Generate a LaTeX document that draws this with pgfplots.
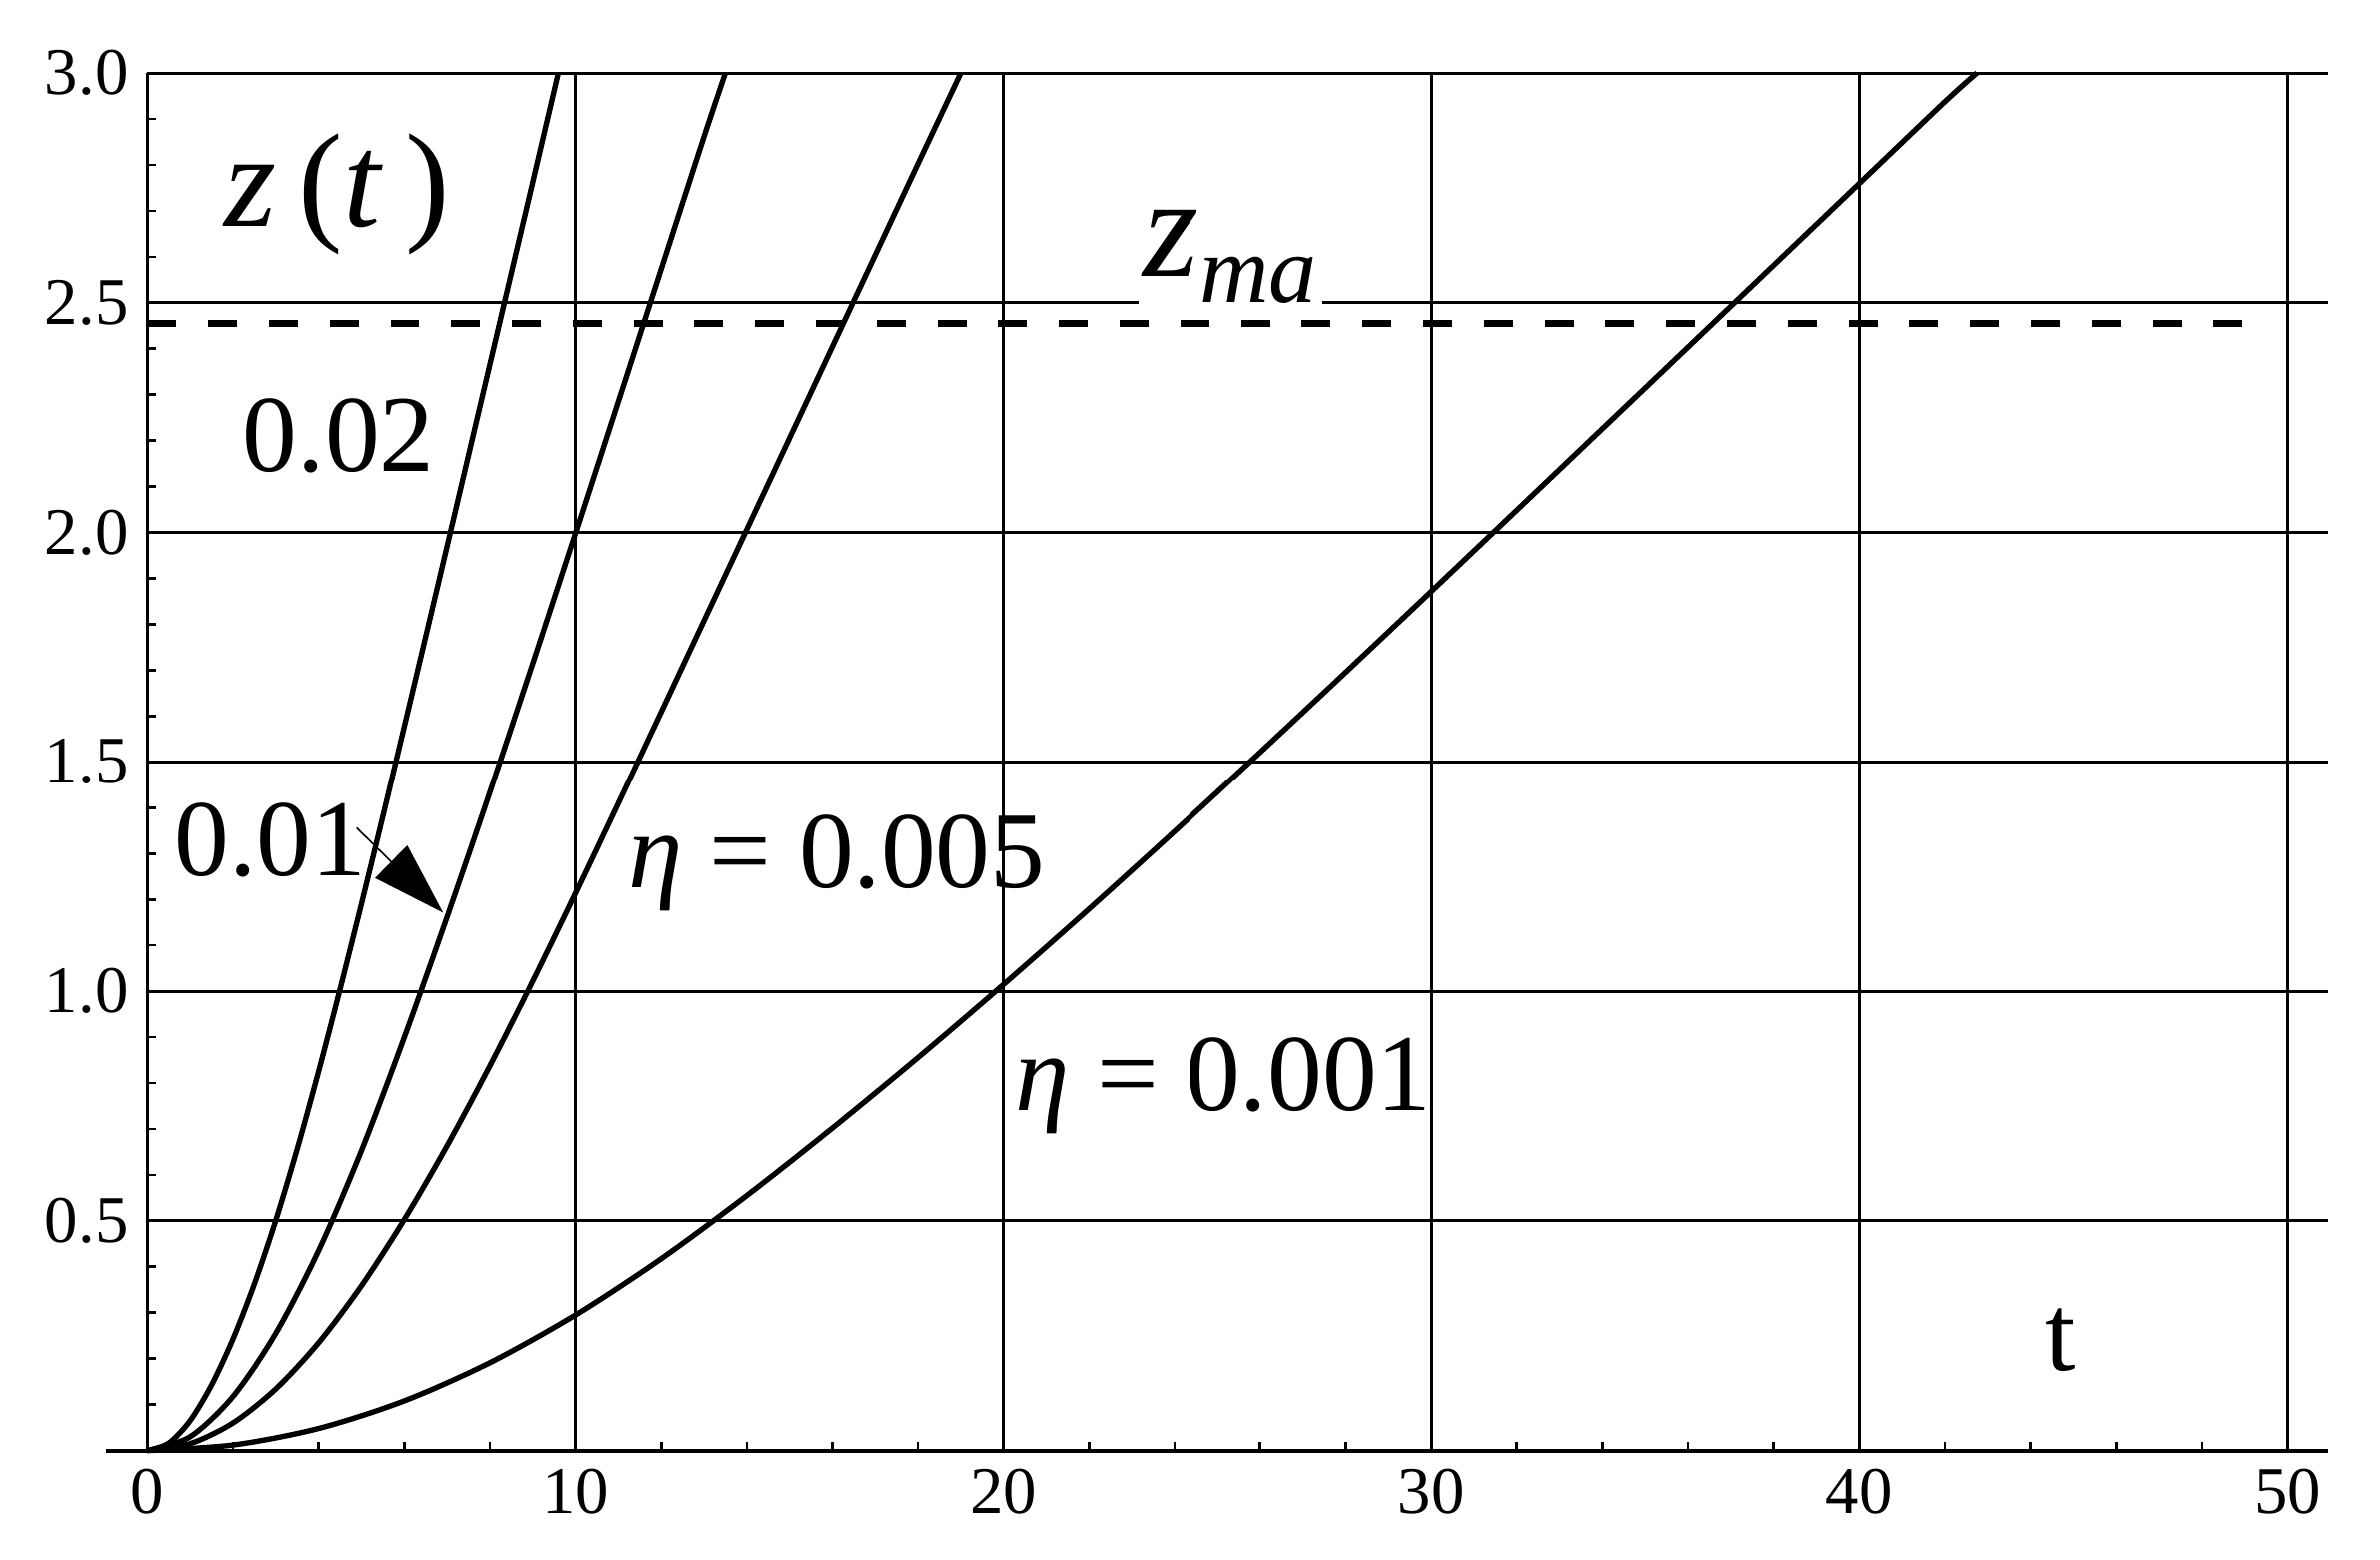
\documentclass[border=0pt]{standalone}
\usepackage{fontspec}
\setmainfont{Liberation Serif}
\usepackage{pgfplots}
\pgfplotsset{compat=1.18}
\usetikzlibrary{arrows.meta}

\begin{document}
\begin{tikzpicture}
\begin{axis}[
  name=ax,
  scale only axis,
  width=143.55mm, height=90.7mm,
  xmin=0, xmax=50.95, ymin=0, ymax=3,
  axis lines*=left,
  clip=false,
  x axis line style={line width=0.75pt, shorten <=-2.7mm},
  y axis line style={line width=0.55pt},
  xtick={0,10,...,50},
  ytick={0.5,1,1.5,2,2.5,3},
  minor xtick={2,4,6,8,12,14,16,18,22,24,26,28,32,34,36,38,42,44,46,48},
  minor ytick={0.1,0.2,0.3,0.4,0.6,0.7,0.8,0.9,1.1,1.2,1.3,1.4,1.6,1.7,1.8,1.9,2.1,2.2,2.3,2.4,2.6,2.7,2.8,2.9},
  tick align=inside,
  major tick length=0.6mm,
  minor tick length=0.6mm,
  tick style={black, line width=0.5pt},
  grid=major,
  major grid style={black, line width=0.55pt},
  /pgf/number format/assume math mode=true,
  tick label style={font=\fontsize{12.5}{14}\selectfont},
  yticklabel style={/pgf/number format/.cd, fixed, fixed zerofill, precision=1},
  xticklabel style={/pgf/number format/.cd, fixed, precision=0},
]

\node[fill=white, inner sep=1pt] at (axis cs:25.3,2.6)
  {{\fontsize{27}{30}\selectfont\textit{z}}\raisebox{-5pt}{\fontsize{18}{20}\selectfont\textit{ma}}};

\addplot[black, line width=1.25pt, dash pattern=on 1.9mm off 2.1mm] coordinates {(0,2.455) (49.6,2.455)};

% eta = 0.02
\addplot[black, line width=1pt, smooth] coordinates {
(0,0) (0.5,0.016) (1,0.065) (1.5,0.1425) (2,0.2425) (2.5,0.3625) (3,0.501) (3.5,0.656) (4,0.825)
(4.5,1.004) (5,1.19) (5.5,1.381) (6,1.576) (6.5,1.772) (7,1.969) (7.5,2.167) (8,2.365) (8.5,2.563)
(9,2.761) (9.6,3.0)};

% eta = 0.01
\addplot[black, line width=1pt, smooth] coordinates {
(0,0) (1,0.03) (2,0.1175) (3,0.255) (4,0.435) (5,0.6525) (6,0.899) (7,1.1615) (8,1.4335)
(9,1.7135) (10,1.998) (11,2.285) (12,2.573) (13,2.861) (13.5,3.0)};

% eta = 0.005
\addplot[black, line width=1pt, smooth] coordinates {
(0,0) (1,0.015) (2,0.06) (3,0.134) (4,0.2345) (5,0.3585) (6,0.5025) (7,0.663) (8,0.837)
(9,1.0215) (10,1.2135) (11,1.41) (12,1.6085) (13,1.8075) (14,2.0065) (15,2.2055) (16,2.4045)
(17,2.6035) (18,2.8025) (19,3.0)};

% eta = 0.001
\addplot[black, line width=1pt, smooth] coordinates {
(0,0) (2,0.012) (4,0.048) (6,0.108) (8,0.191) (10,0.295) (12,0.4175) (14,0.555) (16,0.702)
(18,0.8555) (20,1.015) (22,1.1795) (24,1.3485) (26,1.5208) (28,1.6953) (30,1.8713) (32,2.0483)
(34,2.2257) (36,2.4033) (38,2.5813) (40,2.7593) (42,2.9373) (42.75,3.0)};

\node at (axis cs:4.43,2.736) {\fontsize{25}{30}\selectfont\textit{z}\,(\textit{t}\,)};
\node at (axis cs:4.47,2.21) {\fontsize{20.5}{24}\selectfont 0.02};
\node at (axis cs:2.87,1.33) {\fontsize{20.5}{24}\selectfont 0.01};
\draw[black, line width=0.3pt, -{Triangle[length=4.8mm, width=3mm]}] (axis cs:4.89,1.356) -- (axis cs:6.91,1.171);
\node at (axis cs:16.1,1.28) {\fontsize{20.5}{24}\selectfont\textit{η} = 0.005};
\node at (axis cs:25.14,0.794) {\fontsize{20.5}{24}\selectfont\textit{η} = 0.001};
\node at (axis cs:44.7,0.24) {\fontsize{20.5}{24}\selectfont t};

\coordinate (bbll) at (axis cs:-3.44,-0.238);
\coordinate (bbur) at (axis cs:52.16,3.159);
\end{axis}
\pgfresetboundingbox
\path (bbll) rectangle (bbur);
\end{tikzpicture}
\end{document}
